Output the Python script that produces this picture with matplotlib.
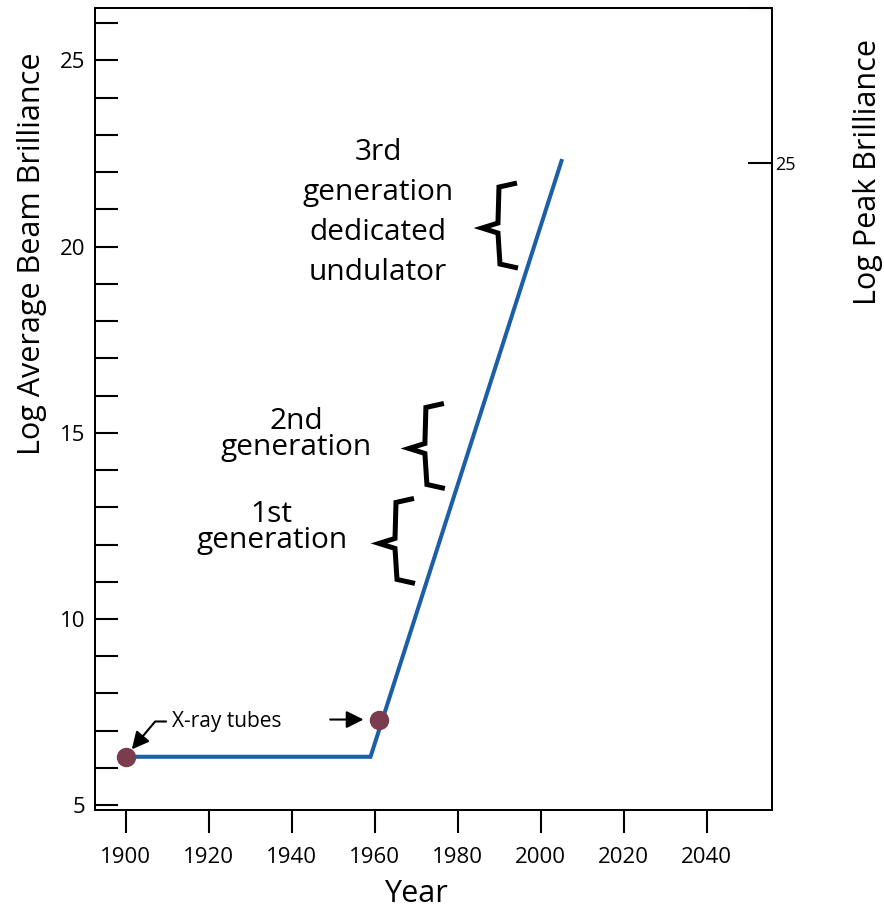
import numpy as np
import matplotlib
matplotlib.use('Agg')
import matplotlib.pyplot as plt
import matplotlib.transforms as mtransforms

plt.rcParams['font.family'] = 'Open Sans'

# brilliance curve (log units) and the two marked sources
years = [1900, 1959, 2005]
avg_brilliance = [6.3, 6.3, 22.3]
source_years = [1900, 1961]
source_brilliance = [6.3, 7.3]

x_ticks = [1900, 1920, 1940, 1960, 1980, 2000, 2020, 2040]
y_ticks = list(range(5, 27))
peak_ticks = [25, 30]
peak_labels = ['25', '']

generation_labels = ['3rd\ngeneration\ndedicated\nundulator', '2nd\ngeneration', '1st\ngeneration']
label_pos = [(1960.8, 19.10), (1941.2, 14.40), (1935.2, 11.90)]
label_spacing = [1.5, 0.88, 0.88]
brace_pos = [(1989.7, 20.50), (1972.1, 14.58), (1964.9, 12.03)]

# brace outline, in pixels around its middle
brace_dx = [19, 1, 0, -16, 0, 2, 20]
brace_dy = [45, 41, 5, 0, -5, -36, -40]

line_color = '#1c5fa8'
dot_color = '#7b3d4e'

fig = plt.figure(figsize=(8.84, 9.08), dpi=100)
ax = fig.add_axes([0.1075, 0.1079, 0.7658, 0.8833])

ax.plot(years, avg_brilliance, color=line_color, lw=2.9, solid_joinstyle='miter', zorder=3)
ax.plot(source_years, source_brilliance, 'o', color=dot_color, markersize=14,
        markeredgewidth=0, zorder=4)

for txt, (x, y), ls in zip(generation_labels, label_pos, label_spacing):
    ax.text(x, y, txt, ha='center', va='baseline', multialignment='center',
            fontsize=21.5, linespacing=ls)

for x, y in brace_pos:
    trans = fig.dpi_scale_trans + mtransforms.ScaledTranslation(x, y, ax.transData)
    ax.plot(np.array(brace_dx) / 100, np.array(brace_dy) / 100, color='black', lw=3.6,
            transform=trans, solid_joinstyle='miter', solid_capstyle='butt', clip_on=False)

ax.annotate('X-ray tubes', xy=(source_years[0], source_brilliance[0]),
            xytext=(1911.1, 7.1), ha='left', va='baseline', fontsize=15,
            arrowprops=dict(arrowstyle='-|>', color='black', lw=1.5, shrinkA=2, shrinkB=7,
                            mutation_scale=26, relpos=(0, 0.5),
                            connectionstyle='angle,angleA=0,angleB=50,rad=0'))
ax.annotate('', xy=(source_years[1], source_brilliance[1]), xytext=(-35, 0),
            textcoords='offset points',
            arrowprops=dict(arrowstyle='-|>', color='black', lw=1.5, shrinkA=0, shrinkB=11,
                            mutation_scale=26))

ax.set_xlim(1892.65, 2055.7)
ax.set_ylim(4.87, 26.41)
ax.set_xticks(x_ticks)
ax.set_yticks(y_ticks)
ax.set_yticklabels([str(v) if v % 5 == 0 else '' for v in y_ticks])
ax.tick_params(axis='x', direction='out', length=16.3, width=1.5, pad=10, labelsize=16)
ax.tick_params(axis='y', direction='in', length=16.5, width=1.5, pad=7, labelsize=16)
for sp in ax.spines.values():
    sp.set_linewidth(1.4)

ax.set_xlabel('Year', fontsize=22)
ax.xaxis.set_label_coords(0.474, -0.086)
ax.set_ylabel('Log Average Beam Brilliance', fontsize=22)
ax.yaxis.set_label_coords(-0.071, 0.694)

ax2 = ax.twinx()
ax2.set_ylim(4.13, 30)
ax2.set_yticks(peak_ticks)
ax2.set_yticklabels(peak_labels)
ax2.tick_params(axis='y', direction='in', length=17, width=1.5, pad=2, labelsize=13)
for sp in ax2.spines.values():
    sp.set_linewidth(1.4)
ax2.set_ylabel('Log Peak Brilliance', fontsize=22)
ax2.yaxis.set_label_coords(1.1196, 0.7955)

fig.savefig('out.png', dpi=100)
